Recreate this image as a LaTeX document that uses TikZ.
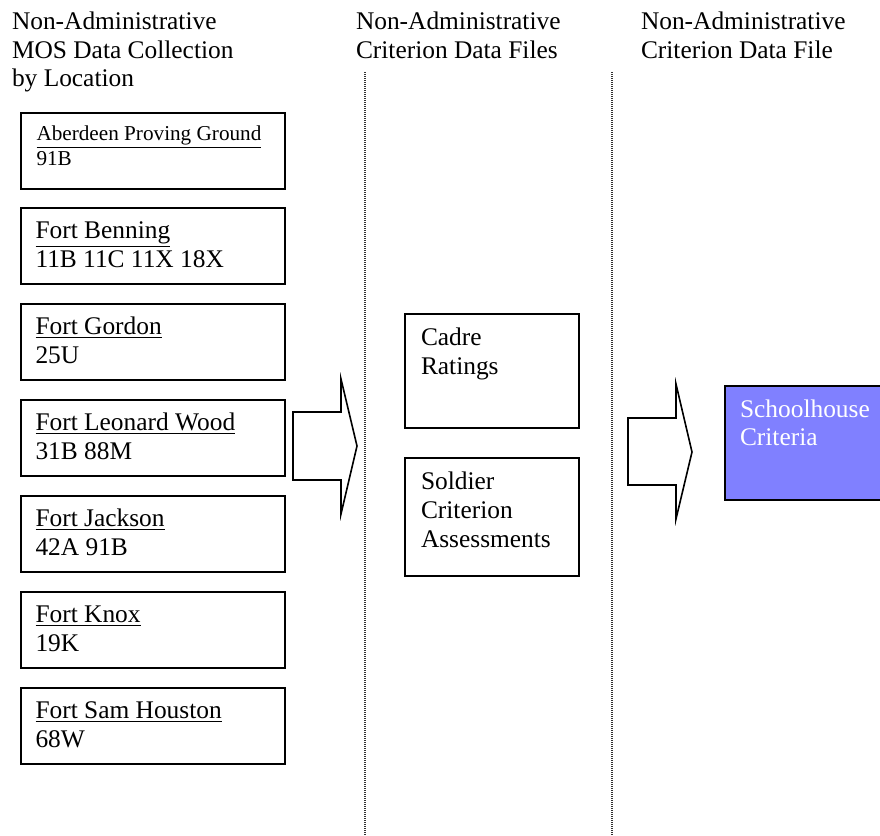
\documentclass[tikz,border=0pt]{standalone}
\usepackage{fontspec}
\setmainfont{Liberation Serif}
\usetikzlibrary{calc}
\definecolor{schoolblue}{RGB}{128,128,255}
\definecolor{dotgray}{RGB}{50,50,50}
\tikzset{
  locbox/.style={draw=black, line width=1pt, minimum width=132pt, minimum height=38pt, inner sep=0pt, outer sep=0pt},
  filebox/.style={draw=black, line width=1pt, inner sep=0pt, outer sep=0pt},
  txt/.style={anchor=base west, inner sep=0pt, outer sep=0pt, font=\fontsize{12.7}{14.4}\selectfont},
  smalltxt/.style={anchor=base west, inner sep=0pt, outer sep=0pt, font=\fontsize{10.6}{12}\selectfont},
  divider/.style={draw=dotgray, line width=0.75pt, dash pattern=on 0.5pt off 0.5pt},
  blockarrow/.style={draw=black, line width=0.8pt, line join=miter, fill=white},
  edge/.style={draw=black, line width=1pt}
}
\begin{document}
\begin{tikzpicture}[x=0.5pt, y=-0.5pt]
\useasboundingbox[fill=white] (0,0) rectangle (880,836);
\clip (0,0) rectangle (880,836);

% headers
\node[txt] (h1a) at (12,29.5) {Non-Administrative};
\node[txt] (h1b) at (12,58) {MOS Data Collection};
\node[txt] (h1c) at (12,86.5) {by Location};
\node[txt] (h2a) at (356,29.5) {Non-Administrative};
\node[txt] (h2b) at (356,58) {Criterion Data Files};
\node[txt] (h3a) at (641,29.5) {Non-Administrative};
\node[txt] (h3b) at (641,58) {Criterion Data File};

% dividers
\coordinate (d1t) at (365,72);
\coordinate (d1b) at (365,836);
\coordinate (d2t) at (612,72);
\coordinate (d2b) at (612,836);
\draw[divider] (d1t) -- (d1b);
\draw[divider] (d2t) -- (d2b);

% location boxes
\node[locbox] (b1) at (152.5,150.5) {};
\node[locbox] (b2) at (152.5,245.5) {};
\node[locbox] (b3) at (152.5,341.5) {};
\node[locbox] (b4) at (152.5,437.5) {};
\node[locbox] (b5) at (152.5,533.5) {};
\node[locbox] (b6) at (152.5,629.5) {};
\node[locbox] (b7) at (152.5,725.5) {};

\node[smalltxt] (t1a) at ($(b1.north west)+(16,28)$) {\underline{Aberdeen Proving Ground}};
\node[smalltxt] (t1b) at ($(b1.north west)+(16,53)$) {91B};
\node[txt] (t2a) at ($(b2.north west)+(15,31)$) {\underline{Fort Benning}};
\node[txt] (t2b) at ($(b2.north west)+(15,60)$) {11B 11C 11X 18X};
\node[txt] (t3a) at ($(b3.north west)+(15,31)$) {\underline{Fort Gordon}};
\node[txt] (t3b) at ($(b3.north west)+(15,60)$) {25U};
\node[txt] (t4a) at ($(b4.north west)+(15,31)$) {\underline{Fort Leonard Wood}};
\node[txt] (t4b) at ($(b4.north west)+(15,60)$) {31B 88M};
\node[txt] (t5a) at ($(b5.north west)+(15,31)$) {\underline{Fort Jackson}};
\node[txt] (t5b) at ($(b5.north west)+(15,60)$) {42A 91B};
\node[txt] (t6a) at ($(b6.north west)+(15,31)$) {\underline{Fort Knox}};
\node[txt] (t6b) at ($(b6.north west)+(15,60)$) {19K};
\node[txt] (t7a) at ($(b7.north west)+(15,31)$) {\underline{Fort Sam Houston}};
\node[txt] (t7b) at ($(b7.north west)+(15,60)$) {68W};

% block arrow 1
\draw[blockarrow] (293,412) -- (341,412) -- (341,379) -- (357,446) -- (341,514) -- (341,480) -- (293,480) -- cycle;

% criterion file boxes
\node[filebox, minimum width=87pt, minimum height=57pt] (cadre) at (492,370.5) {};
\node[txt] (ct1) at ($(cadre.north west)+(16,32)$) {Cadre};
\node[txt] (ct2) at ($(cadre.north west)+(16,60.5)$) {Ratings};
\node[filebox, minimum width=87pt, minimum height=59pt] (soldier) at (492,517) {};
\node[txt] (st1) at ($(soldier.north west)+(16,31)$) {Soldier};
\node[txt] (st2) at ($(soldier.north west)+(16,60)$) {Criterion};
\node[txt] (st3) at ($(soldier.north west)+(16,89)$) {Assessments};

% block arrow 2
\draw[blockarrow] (628,418) -- (676,418) -- (676,384) -- (692,452) -- (676,519) -- (676,485) -- (628,485) -- cycle;

% schoolhouse criteria box (runs past the right edge)
\node[fill=schoolblue, inner sep=0pt, outer sep=0pt, minimum width=110pt, minimum height=57pt, anchor=north west] (school) at (725,386) {};
\draw[edge] (school.north east) -- (school.north west) -- (school.south west) -- (school.south east);
\node[txt, text=white] (sc1) at ($(school.north west)+(15,31)$) {Schoolhouse};
\node[txt, text=white] (sc2) at ($(school.north west)+(15,59)$) {Criteria};
\end{tikzpicture}
\end{document}
